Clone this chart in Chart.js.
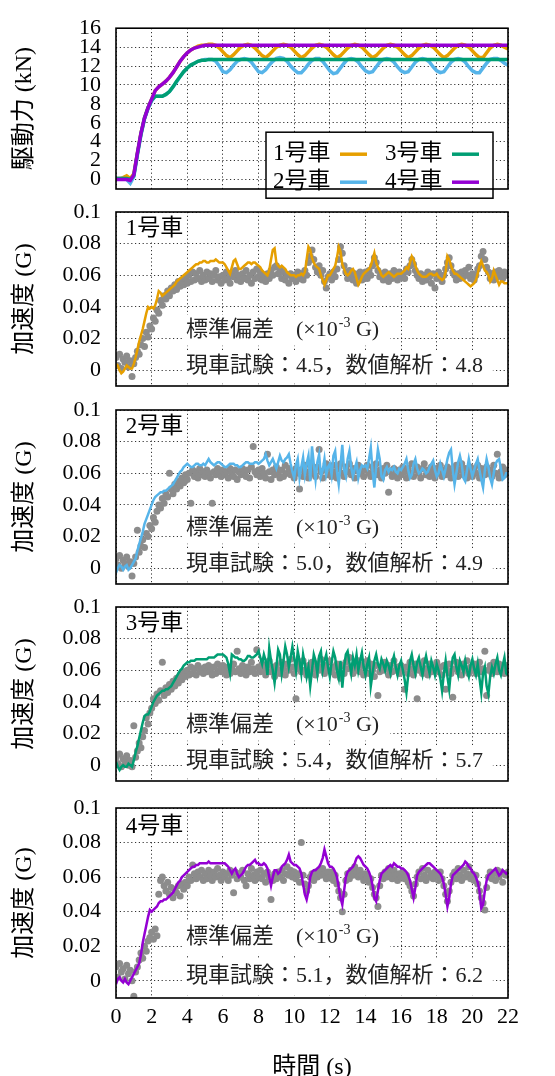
<!DOCTYPE html>
<html lang="ja">
<head>
<meta charset="UTF-8">
<title>駆動力と加速度</title>
<script src="https://cdn.jsdelivr.net/npm/chart.js"></script>
<style>
  html, body { margin: 0; padding: 0; background: #fff; overflow: hidden; }
  #wrap { position: relative; width: 555px; height: 1076px; }
  #wrap canvas { position: absolute; left: 0; top: 0; }
</style>
</head>
<body>
<div id="wrap">
  <canvas id="force" width="555" height="1076"></canvas>
  <canvas id="acc1" width="555" height="1076"></canvas>
  <canvas id="acc2" width="555" height="1076"></canvas>
  <canvas id="acc3" width="555" height="1076"></canvas>
  <canvas id="acc4" width="555" height="1076"></canvas>
</div>
<script>
// ---- data ----
const carNames = ['1号車', '2号車', '3号車', '4号車'];
const carColors = ['#E69F00', '#56B4E9', '#009E73', '#9400D3'];
const measuredColor = '#8c8c8c';
const xTicks = [0, 2, 4, 6, 8, 10, 12, 14, 16, 18, 20, 22];

// standard deviations (x10^-3 G): measured, simulated
const stdMeasured = ['4.5', '5.0', '5.4', '5.1'];
const stdSimulated = ['4.8', '4.9', '5.7', '6.2'];

// driving force (kN), sampled every 0.2 s
const forceDt = 0.2;
const force1 = [0.1,0.1,0.2,0.4,0.1,0.6,2.8,4.9,6.5,7.6,
  8.5,9.4,9.8,10.1,10.4,10.8,11.3,11.9,12.5,13.0,
  13.4,13.7,13.9,14.1,14.2,14.2,14.3,14.3,14.2,13.9,
  13.5,13.1,12.9,13.2,13.6,14.0,14.2,14.3,14.2,13.9,
  13.5,13.1,12.9,13.2,13.6,14.0,14.2,14.3,14.2,14.0,
  13.6,13.2,12.9,13.1,13.5,13.9,14.2,14.3,14.2,14.0,
  13.6,13.2,12.9,13.1,13.5,13.9,14.2,14.3,14.2,14.0,
  13.6,13.2,12.9,13.1,13.5,13.9,14.2,14.3,14.2,14.0,
  13.6,13.2,12.9,13.1,13.5,13.9,14.2,14.3,14.2,14.0,
  13.6,13.2,12.9,13.1,13.5,13.9,14.2,14.3,14.2,14.0,
  13.6,13.2,12.9,12.9,13.4,13.9,14.2,14.3,14.2,14.0,
  13.8];
const force2 = [0.1,0.1,0.1,0.0,-0.4,0.3,2.6,4.7,6.4,7.5,
  8.3,8.8,8.8,8.8,9.0,9.3,9.8,10.3,10.9,11.4,
  11.8,12.1,12.3,12.5,12.6,12.7,12.7,12.7,12.5,12.0,
  11.4,11.3,11.6,12.1,12.5,12.7,12.8,12.7,12.4,11.9,
  11.4,11.3,11.6,12.1,12.5,12.8,12.9,12.8,12.5,12.0,
  11.6,11.3,11.3,11.7,12.2,12.6,12.8,12.8,12.5,12.0,
  11.5,11.2,11.3,11.8,12.3,12.7,12.8,12.7,12.4,11.9,
  11.5,11.3,11.4,11.9,12.4,12.7,12.8,12.7,12.4,11.9,
  11.5,11.3,11.4,11.9,12.4,12.7,12.8,12.7,12.4,11.9,
  11.5,11.3,11.4,11.9,12.4,12.7,12.8,12.7,12.4,11.9,
  11.5,11.3,11.3,11.8,12.3,12.7,12.8,12.8,12.6,12.3,
  12.1];
const force3 = [0.1,0.1,0.1,0.1,0.0,0.4,2.7,4.8,6.5,7.6,
  8.4,8.8,8.8,8.8,9.0,9.3,9.8,10.4,10.9,11.4,
  11.8,12.1,12.3,12.5,12.6,12.6,12.7,12.7,12.7,12.7,
  12.7,12.7,12.7,12.7,12.7,12.7,12.7,12.7,12.7,12.7,
  12.7,12.7,12.7,12.7,12.7,12.7,12.7,12.7,12.7,12.7,
  12.7,12.7,12.7,12.7,12.7,12.7,12.7,12.7,12.7,12.7,
  12.7,12.7,12.7,12.7,12.7,12.7,12.7,12.7,12.7,12.7,
  12.7,12.7,12.7,12.7,12.7,12.7,12.7,12.7,12.7,12.7,
  12.7,12.7,12.7,12.7,12.7,12.7,12.7,12.7,12.7,12.7,
  12.7,12.7,12.7,12.7,12.7,12.7,12.7,12.7,12.7,12.7,
  12.7,12.7,12.7,12.7,12.7,12.7,12.7,12.7,12.7,12.7,
  12.7];
const force4 = [0.0,0.0,0.0,0.0,-0.1,0.5,2.8,4.9,6.5,7.6,
  8.5,9.4,9.8,10.1,10.4,10.8,11.3,11.9,12.5,13.0,
  13.4,13.7,13.9,14.0,14.1,14.2,14.2,14.2,14.2,14.2,
  14.2,14.2,14.2,14.2,14.2,14.2,14.2,14.2,14.2,14.2,
  14.2,14.2,14.2,14.2,14.2,14.2,14.2,14.2,14.2,14.2,
  14.2,14.2,14.2,14.2,14.2,14.2,14.2,14.2,14.2,14.2,
  14.2,14.2,14.2,14.2,14.2,14.2,14.2,14.2,14.2,14.2,
  14.2,14.2,14.2,14.2,14.2,14.2,14.2,14.2,14.2,14.2,
  14.2,14.2,14.2,14.2,14.2,14.2,14.2,14.2,14.2,14.2,
  14.2,14.2,14.2,14.2,14.2,14.2,14.2,14.2,14.2,14.2,
  14.2,14.2,14.2,14.2,14.2,14.2,14.2,14.2,14.2,14.2,
  14.2];

// acceleration in 10^-3 G, sampled every 0.1 s
const accDt = 0.1;
// simulation (coloured lines)
const accSim1 = [4,3,0,-2,-1,1,3,2,1,1,
  4,8,13,18,22,26,31,36,40,39,
  40,39,41,45,50,49,47,48,49,50,
  51,52,53,54,56,57,58,59,60,61,
  62,63,64,65,66,67,67,68,68,69,
  69,68,68,69,69,69,70,69,68,68,
  68,67,65,63,61,65,69,70,67,64,
  64,65,66,67,68,68,67,68,68,67,
  66,65,63,62,61,60,63,70,76,77,
  68,66,65,66,65,64,62,61,60,60,
  60,59,60,60,61,60,62,70,78,76,
  71,68,66,65,64,60,57,54,57,60,
  60,62,64,66,71,78,75,67,64,61,
  60,61,63,64,62,58,54,56,59,61,
  62,63,64,66,70,74,68,65,63,60,
  59,60,61,62,61,60,59,60,61,61,
  61,62,63,65,64,68,72,70,66,63,
  61,60,59,59,59,60,61,61,60,60,
  61,59,58,57,58,62,72,70,66,63,
  61,61,60,59,58,57,56,55,54,53,
  54,55,57,61,66,69,66,63,62,60,
  56,58,63,60,57,54,56,56,55,55,
  55];
const accSim2 = [-3,0,2,1,-1,1,2,-1,0,2,
  4,6,11,15,19,23,28,31,34,37,
  40,43,45,46,47,48,48,49,49,50,
  51,52,53,55,57,59,61,62,64,65,
  66,65,64,64,65,66,66,65,65,66,
  65,67,69,67,66,65,66,67,67,66,
  65,64,64,65,66,66,66,65,65,64,
  64,65,66,67,67,66,66,66,67,67,
  66,67,68,69,72,68,65,67,69,66,
  63,67,71,68,67,69,70,72,66,61,
  57,65,69,57,64,70,59,66,71,55,
  77,66,56,67,72,58,62,69,59,64,
  66,59,71,74,61,53,65,78,62,58,
  69,74,64,58,63,67,57,62,65,64,
  65,63,69,76,61,51,64,75,69,58,
  56,62,64,61,63,62,64,61,60,63,
  62,64,66,69,62,57,59,66,69,63,
  60,61,63,62,60,61,64,66,68,62,
  58,60,66,62,58,63,69,73,75,62,
  53,60,67,71,66,57,55,62,69,63,
  58,62,66,69,62,56,51,62,69,64,
  57,53,60,66,68,69,63,56,57,60,
  60];
const accSim3 = [2,-1,-3,-1,0,-1,-1,1,0,-1,
  3,8,12,17,22,27,31,32,32,34,
  37,40,42,44,45,46,47,47,48,48,
  49,50,52,54,56,58,60,61,63,64,
  65,65,66,66,66,67,67,67,67,67,
  67,67,68,68,68,68,69,70,70,70,
  70,69,68,64,58,70,69,68,68,67,
  67,66,66,67,69,69,68,68,69,70,
  72,68,64,70,66,57,74,66,60,52,
  62,73,70,58,66,75,70,62,68,75,
  68,60,72,66,58,70,64,56,62,50,
  60,70,66,58,69,72,60,66,70,62,
  56,65,72,68,60,55,66,49,62,70,
  72,65,58,68,63,70,60,66,71,62,
  57,64,68,50,58,66,70,64,61,67,
  64,60,66,63,58,65,69,62,57,63,
  66,60,54,46,57,66,70,63,58,65,
  68,62,57,64,69,63,58,66,62,57,
  64,60,55,47,58,66,56,48,60,68,
  70,62,57,66,63,59,66,60,56,63,
  67,61,57,64,55,46,58,62,50,45,
  56,62,58,64,68,60,57,63,68,58,
  57];
const accSim4 = [-2,1,2,0,-1,1,-1,-2,0,2,
  4,6,8,10,15,22,27,32,37,41,
  40,41,42,43,45,46,46,47,47,48,
  49,50,51,53,55,57,58,60,61,62,
  63,64,65,66,66,67,67,68,68,68,
  68,68,69,68,68,68,68,68,68,68,
  68,68,67,66,64,62,64,65,62,60,
  61,62,64,66,67,67,68,69,70,68,
  68,67,67,68,67,65,60,55,60,64,
  64,62,63,66,67,68,70,73,69,68,
  67,67,66,65,62,56,50,47,52,60,
  63,64,64,65,66,68,71,76,72,68,
  66,66,65,63,60,54,48,44,52,60,
  63,64,65,66,68,71,72,71,69,67,
  66,65,63,60,55,48,46,52,58,62,
  63,64,65,66,67,66,68,67,66,66,
  65,65,64,63,61,58,53,48,54,61,
  63,64,65,66,67,68,68,67,66,65,
  64,63,62,60,56,50,43,48,56,61,
  62,63,64,65,66,67,69,68,66,65,
  63,62,60,57,52,42,44,52,58,61,
  62,63,64,65,63,61,62,64,63,62,
  63];
// field test (grey points)
const accMeas1 = [8,3,10,1,7,5,9,2,6,-4,
  4,8,12,10,16,20,15,24,21,28,
  26,33,31,38,36,44,41,47,45,50,
  47,52,50,54,51,56,53,57,54,58,
  55,60,56,62,57,61,58,63,56,60,
  57,62,58,61,56,60,63,57,59,55,
  60,57,62,58,55,61,59,63,57,60,
  56,61,58,63,57,60,55,62,58,64,
  59,62,57,60,56,61,58,63,60,65,
  66,61,64,58,62,57,60,55,61,58,
  60,56,62,58,61,57,63,60,68,72,
  76,70,65,62,66,60,63,56,52,59,
  61,57,62,59,64,70,78,74,66,62,
  58,63,60,57,61,55,59,62,57,60,
  62,58,63,60,66,71,68,63,59,61,
  57,62,59,56,61,58,63,60,57,62,
  59,61,58,64,62,66,70,67,63,60,
  58,61,56,60,57,62,59,55,61,52,
  58,62,59,56,60,64,68,71,66,62,
  60,57,61,58,62,59,63,60,65,58,
  61,57,60,64,66,72,75,70,65,62,
  58,61,57,62,59,63,60,58,62,60,
  61];
const accMeas2 = [6,2,8,0,5,3,7,1,4,-5,
  3,7,24,10,14,18,13,22,20,27,
  25,32,29,36,40,38,44,41,47,45,
  60,50,47,53,50,55,52,57,54,59,
  56,60,41,62,58,61,57,63,59,61,
  58,62,60,57,41,61,59,63,60,58,
  62,59,61,57,63,60,58,62,56,61,
  59,63,60,58,62,57,64,77,61,59,
  62,58,63,60,57,72,61,56,62,59,
  64,60,57,62,58,65,60,63,59,61,
  57,63,60,50,62,58,65,61,57,66,
  60,63,58,64,75,61,57,62,66,59,
  63,58,65,61,57,63,66,60,58,64,
  61,66,59,63,57,62,65,60,63,58,
  62,65,60,58,64,61,66,59,62,57,
  63,60,65,48,61,58,63,60,57,62,
  59,64,61,57,63,60,66,58,62,64,
  60,57,63,66,59,62,58,64,61,57,
  63,60,65,58,62,59,64,61,57,63,
  60,65,58,62,66,59,63,57,61,64,
  58,62,60,65,57,63,61,59,64,60,
  62,58,65,60,72,57,61,64,59,62,
  60];
const accMeas3 = [5,1,7,-1,4,2,6,0,3,-1,
  25,5,9,14,11,18,22,30,26,33,
  36,42,39,45,41,47,65,44,49,46,
  51,48,53,50,55,52,57,54,59,56,
  60,57,62,58,61,57,63,59,61,58,
  62,59,63,60,57,62,58,64,60,59,
  63,60,57,62,58,61,64,59,72,61,
  58,63,60,57,62,59,65,61,58,73,
  62,59,64,60,57,63,66,59,61,56,
  63,60,58,65,61,57,64,60,67,62,
  58,42,61,64,59,66,60,57,63,59,
  65,61,57,64,60,67,62,58,63,60,
  66,59,62,57,64,60,55,63,58,65,
  61,68,62,58,64,60,66,59,63,57,
  62,66,58,64,60,56,63,44,59,62,
  60,65,61,57,63,59,66,60,62,58,
  63,60,48,62,58,65,61,57,64,42,
  60,63,58,66,61,57,64,59,62,60,
  65,59,62,57,63,48,60,64,58,43,
  61,65,59,62,57,64,60,66,58,62,
  60,64,58,62,65,59,61,72,44,60,
  63,58,65,61,59,64,60,62,58,63,
  61];
const accMeas4 = [8,2,10,5,7,1,9,4,6,0,
  -9,5,8,12,16,13,20,17,23,25,
  28,24,30,26,50,58,60,55,52,57,
  50,54,48,53,51,55,49,56,53,57,
  55,60,58,67,62,59,63,60,64,58,
  62,59,64,61,58,63,60,65,61,58,
  63,60,62,58,64,61,51,63,59,62,
  60,64,58,55,62,59,65,61,58,63,
  60,64,59,62,57,63,60,47,58,62,
  59,63,60,64,58,62,66,61,64,60,
  63,59,62,57,80,61,56,52,55,60,
  62,58,63,60,64,61,65,62,59,63,
  60,63,58,61,56,52,48,40,50,58,
  62,59,64,61,66,63,60,64,61,58,
  62,60,57,59,54,50,48,43,55,61,
  59,63,60,65,62,59,64,61,58,62,
  60,63,59,61,57,55,52,49,56,60,
  63,59,65,61,58,64,60,62,59,63,
  61,58,63,59,55,50,46,52,57,61,
  63,59,65,61,58,64,60,62,66,59,
  62,58,61,56,52,48,45,41,54,60,
  63,59,62,58,64,60,63,57,62,61,
  63];

const accSim = [accSim1, accSim2, accSim3, accSim4];
const accMeas = [accMeas1, accMeas2, accMeas3, accMeas4];
const forces = [force1, force2, force3, force4];

// ---- drawing ----
const FAM = '"Liberation Serif", "Noto Sans CJK JP", serif';
const W = 555, H = 1076;
const plotLeft = 116, plotRight = 508;
// plot area top / bottom of each panel (px)
const panelBox = [[14, 189], [212, 386], [410, 584], [607, 781], [808, 998]];

function toPoints(arr, dt, scale) {
  return arr.map((v, i) => ({ x: i * dt, y: v * scale }));
}

const frame = {
  id: 'frame',
  afterDraw(chart) {
    const { ctx, chartArea: a } = chart;
    ctx.save();
    ctx.strokeStyle = '#000';
    ctx.lineWidth = 1.6;
    ctx.strokeRect(a.left, a.top, a.right - a.left, a.bottom - a.top);
    ctx.restore();
  }
};

const forceLegend = {
  id: 'forceLegend',
  afterDatasetsDraw(chart) {
    const { ctx, chartArea: a } = chart;
    const bx = a.left + 150, by = a.top + 104, bw = 227, bh = 66;
    ctx.save();
    ctx.fillStyle = '#fff';
    ctx.fillRect(bx, by, bw, bh);
    ctx.strokeStyle = '#000';
    ctx.lineWidth = 1.5;
    ctx.strokeRect(bx, by, bw, bh);
    ctx.font = '23px ' + FAM;
    ctx.textBaseline = 'middle';
    carNames.forEach((name, i) => {
      const col = i < 2 ? 0 : 1;
      const row = i % 2;
      const tx = bx + (col ? 119 : 7);
      const ty = by + (row ? 50 : 22);
      ctx.fillStyle = '#000';
      ctx.fillText(name, tx, ty);
      ctx.strokeStyle = carColors[i];
      ctx.lineWidth = 3.5;
      ctx.beginPath();
      ctx.moveTo(tx + 67, ty);
      ctx.lineTo(tx + 94, ty);
      ctx.stroke();
    });
    ctx.restore();
  }
};

function notes(i) {
  return {
    id: 'notes' + i,
    beforeDatasetsDraw(chart) {
      const { ctx, scales: { x, y }, chartArea: a } = chart;
      ctx.save();
      ctx.fillStyle = '#fff';
      // white boxes behind labels
      const lx = x.getPixelForValue(3.9);
      ctx.fillRect(a.left + 1, a.top + 1, lx - a.left, y.getPixelForValue(0.0815) - a.top);
      const nx = x.getPixelForValue(3.75);
      const y1a = y.getPixelForValue(0.035), y1b = y.getPixelForValue(0.0155);
      ctx.fillRect(nx, y1a, x.getPixelForValue(15.4) - nx, y1b - y1a);
      const y2a = y.getPixelForValue(0.0125), y2b = y.getPixelForValue(-0.0085);
      ctx.fillRect(nx, y2a, x.getPixelForValue(21.15) - nx, y2b - y2a);

      ctx.textBaseline = 'middle';
      ctx.fillStyle = '#000';
      ctx.font = '23px ' + FAM;
      ctx.fillText(carNames[i], x.getPixelForValue(0.55), y.getPixelForValue(0.089));

      ctx.fillStyle = '#222';
      ctx.font = '22px ' + FAM;
      let tx = x.getPixelForValue(3.93);
      const ty1 = y.getPixelForValue(0.025);
      const s1 = '標準偏差　(×10';
      ctx.fillText(s1, tx, ty1);
      tx += ctx.measureText(s1).width;
      ctx.font = '14px ' + FAM;
      ctx.fillText('-3', tx + 1, ty1 - 7);
      tx += ctx.measureText('-3').width + 1;
      ctx.font = '22px ' + FAM;
      ctx.fillText(' G)', tx, ty1);

      const ty2 = y.getPixelForValue(0.0025);
      ctx.fillText('現車試験：' + stdMeasured[i] + '，数値解析：' + stdSimulated[i],
        x.getPixelForValue(3.93), ty2);
      ctx.restore();
    }
  };
}

function makeChart(id, panel, datasets, yOpts, extraPlugins, isBottom) {
  const [top, bottom] = panelBox[panel];
  const xAxisH = isBottom ? H - bottom : 0;
  return new Chart(document.getElementById(id), {
    type: 'line',
    data: { datasets },
    options: {
      responsive: false,
      maintainAspectRatio: false,
      animation: false,
      devicePixelRatio: 1,
      layout: { padding: { left: 0, right: W - plotRight, top: top, bottom: H - bottom - xAxisH } },
      plugins: { legend: { display: false }, tooltip: { enabled: false } },
      scales: {
        x: {
          type: 'linear',
          min: 0, max: 22,
          afterBuildTicks: s => { s.ticks = xTicks.map(v => ({ value: v })); },
          grid: { color: '#000', lineWidth: 0.8, drawTicks: false },
          border: { display: false, dash: [1.2, 2.6] },
          ticks: {
            display: !!isBottom,
            autoSkip: false,
            maxRotation: 0,
            padding: 6,
            color: '#000',
            font: { family: FAM, size: 22 }
          },
          title: {
            display: !!isBottom,
            text: '時間 (s)',
            color: '#000',
            font: { family: FAM, size: 24, lineHeight: 0.68 },
            padding: 0
          },
          afterFit: s => { s.height = xAxisH; }
        },
        y: {
          type: 'linear',
          min: yOpts.min, max: yOpts.max,
          grid: { color: '#000', lineWidth: 0.8, drawTicks: false },
          border: { display: false, dash: [1.2, 2.6] },
          ticks: {
            stepSize: yOpts.step,
            includeBounds: false,
            autoSkip: false,
            padding: 15,
            color: '#000',
            font: { family: FAM, size: 22 },
            callback: v => String(Math.round(v * 1000) / 1000)
          },
          title: {
            display: true,
            text: yOpts.title,
            color: '#000',
            font: { family: FAM, size: 24, lineHeight: 1 },
            padding: { top: 13, bottom: 0 }
          },
          afterFit: s => { s.width = plotLeft; }
        }
      }
    },
    plugins: [frame].concat(extraPlugins)
  });
}

// driving force panel: car 4 drawn on top, car 1 at the bottom
makeChart('force', 0,
  forces.map((f, i) => ({
    data: toPoints(f, forceDt, 1),
    borderColor: carColors[i],
    borderWidth: 3.5,
    pointRadius: 0,
    tension: 0,
    order: 4 - i
  })),
  { min: -1, max: 16, step: 2, title: '駆動力 (kN)' },
  [forceLegend], false);

// acceleration panels
for (let i = 0; i < 4; i++) {
  makeChart('acc' + (i + 1), i + 1, [
    {
      data: toPoints(accSim[i], accDt, 0.001),
      borderColor: carColors[i],
      borderWidth: 2.5,
      pointRadius: 0,
      tension: 0,
      order: 1
    },
    {
      data: toPoints(accMeas[i], accDt, 0.001),
      showLine: false,
      pointRadius: 3.5,
      pointBorderWidth: 0,
      pointBackgroundColor: measuredColor,
      order: 2
    }
  ], { min: -0.01, max: 0.1, step: 0.02, title: '加速度 (G)' }, [notes(i)], i === 3);
}
</script>
</body>
</html>
